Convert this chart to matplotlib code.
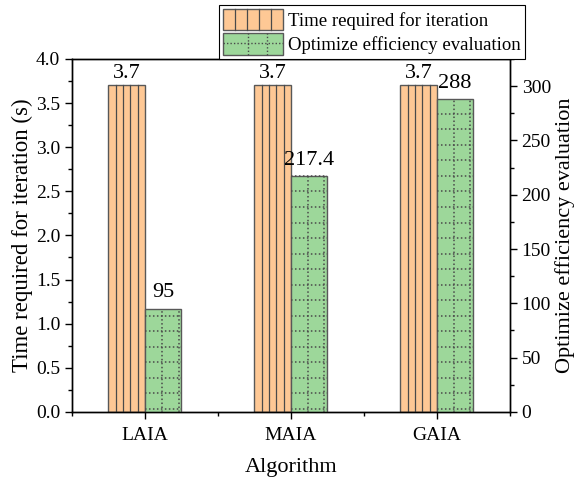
import numpy as np
import matplotlib
matplotlib.use("Agg")
import matplotlib.pyplot as plt
from matplotlib.patches import Rectangle
from matplotlib.lines import Line2D
from matplotlib.legend_handler import HandlerBase
from matplotlib.ticker import MultipleLocator, FixedLocator

plt.rcParams["font.family"] = ["Liberation Serif", "DejaVu Serif"]

algorithms = ["LAIA", "MAIA", "GAIA"]
iter_time = [3.7, 3.7, 3.7]
efficiency = [95, 217.4, 288]

ORANGE = "#FEC895"
GREEN = "#9DD79A"
EDGE = "#585858"
LINE = "#4a4a4a"


class StripeHandler(HandlerBase):
    # legend swatch with the same inner lines as the bars
    def __init__(self, kind):
        super().__init__()
        self.kind = kind

    def create_artists(self, legend, orig_handle, xdescent, ydescent,
                       width, height, fontsize, trans):
        x0, y0 = -xdescent, -ydescent
        rect = Rectangle((x0, y0), width, height, facecolor=orig_handle.get_facecolor(),
                         edgecolor=EDGE, lw=1.0, transform=trans)
        arts = [rect]
        if self.kind == "v":
            for k in range(1, 5):
                xx = x0 + width * k / 5
                arts.append(Line2D([xx, xx], [y0, y0 + height], color=LINE, lw=0.9, transform=trans))
        else:
            for f in (0.42, 0.74):
                xx = x0 + width * f
                arts.append(Line2D([xx, xx], [y0, y0 + height], color=LINE, lw=1.0,
                                   ls=(0, (1, 1.5)), transform=trans))
            yy = y0 + height * 0.55
            arts.append(Line2D([x0, x0 + width], [yy, yy], color=LINE, lw=1.0,
                               ls=(0, (1, 1.5)), transform=trans))
        return arts


fig = plt.figure(figsize=(5.76, 4.79), dpi=100)
ax = fig.add_axes([0.125, 0.140, 0.760, 0.737])
ax2 = ax.twinx()

x = np.arange(len(algorithms))
w = 0.25

b1 = ax.bar(x - w / 2, iter_time, w, color=ORANGE, edgecolor=EDGE, lw=1.0, zorder=2)
b2 = ax2.bar(x + w / 2, efficiency, w, color=GREEN, edgecolor=EDGE, lw=1.0, zorder=2)

# vertical stripes on the orange bars
for r in b1:
    x0, bw, h = r.get_x(), r.get_width(), r.get_height()
    for k in range(1, 5):
        ax.plot([x0 + bw * k / 5] * 2, [0, h], color=LINE, lw=0.9, zorder=3)

# dotted grid on the green bars
for r in b2:
    x0, bw, h = r.get_x(), r.get_width(), r.get_height()
    for f in (0.47, 0.92):
        ax2.plot([x0 + bw * f] * 2, [0, h], color=LINE, lw=1.1, ls=(0, (1, 1.6)), zorder=3)
    for yy in np.arange(2.8, h, 14.3):
        ax2.plot([x0, x0 + bw], [yy, yy], color=LINE, lw=1.1, ls=(0, (1, 1.6)), zorder=3)

ax.bar_label(b1, labels=[f"{v:g}" for v in iter_time], padding=1.5, fontsize=16)
ax2.bar_label(b2, labels=[f"{v:g}" for v in efficiency], padding=4.5, fontsize=16)

ax.set_xlim(-0.5, 2.5)
ax.set_ylim(0, 4.0)
ax2.set_ylim(0, 325)

ax.set_xticks(x)
ax.set_xticklabels(algorithms)
ax.xaxis.set_minor_locator(FixedLocator([-0.5, 0.5, 1.5, 2.5]))
ax.yaxis.set_major_locator(MultipleLocator(0.5))
ax.yaxis.set_minor_locator(MultipleLocator(0.25))
ax2.yaxis.set_major_locator(MultipleLocator(50))
ax2.yaxis.set_minor_locator(MultipleLocator(25))

ax.tick_params(axis="both", which="major", direction="out", length=5, width=1, labelsize=14)
ax.tick_params(axis="both", which="minor", direction="out", length=3, width=1)
ax.tick_params(axis="x", which="major", pad=6)
ax2.tick_params(axis="y", which="major", direction="out", length=5, width=1, labelsize=14)
ax2.tick_params(axis="y", which="minor", direction="out", length=3, width=1)
# top axis ticks point inward
ax2.tick_params(axis="x", which="major", top=True, bottom=False, direction="in",
                length=5, width=1, labeltop=False, labelbottom=False)
ax2.tick_params(axis="x", which="minor", top=True, bottom=False, direction="in",
                length=3, width=1)

for a in (ax, ax2):
    for s in a.spines.values():
        s.set_linewidth(1.0)

ax.set_xlabel("Algorithm", fontsize=16, labelpad=10)
ax.set_ylabel("Time required for iteration (s)", fontsize=16.5, labelpad=2)
ax2.set_ylabel("Optimize efficiency evaluation", fontsize=16, labelpad=3)

h1 = Rectangle((0, 0), 1, 1, facecolor=ORANGE)
h2 = Rectangle((0, 0), 1, 1, facecolor=GREEN)
leg = fig.legend([h1, h2], ["Time required for iteration", "Optimize efficiency evaluation"],
                 handler_map={h1: StripeHandler("v"), h2: StripeHandler("g")},
                 loc="upper left", bbox_to_anchor=(219 / 576, 1 - 5 / 479),
                 bbox_transform=fig.transFigure, fontsize=13.5, frameon=True,
                 fancybox=False, edgecolor="black", framealpha=1,
                 handlelength=3.2, handleheight=1.4, handletextpad=0.3,
                 borderpad=0.2, labelspacing=0.15, borderaxespad=0)
leg.get_frame().set_linewidth(0.8)

fig.savefig("out.png", dpi=100)
